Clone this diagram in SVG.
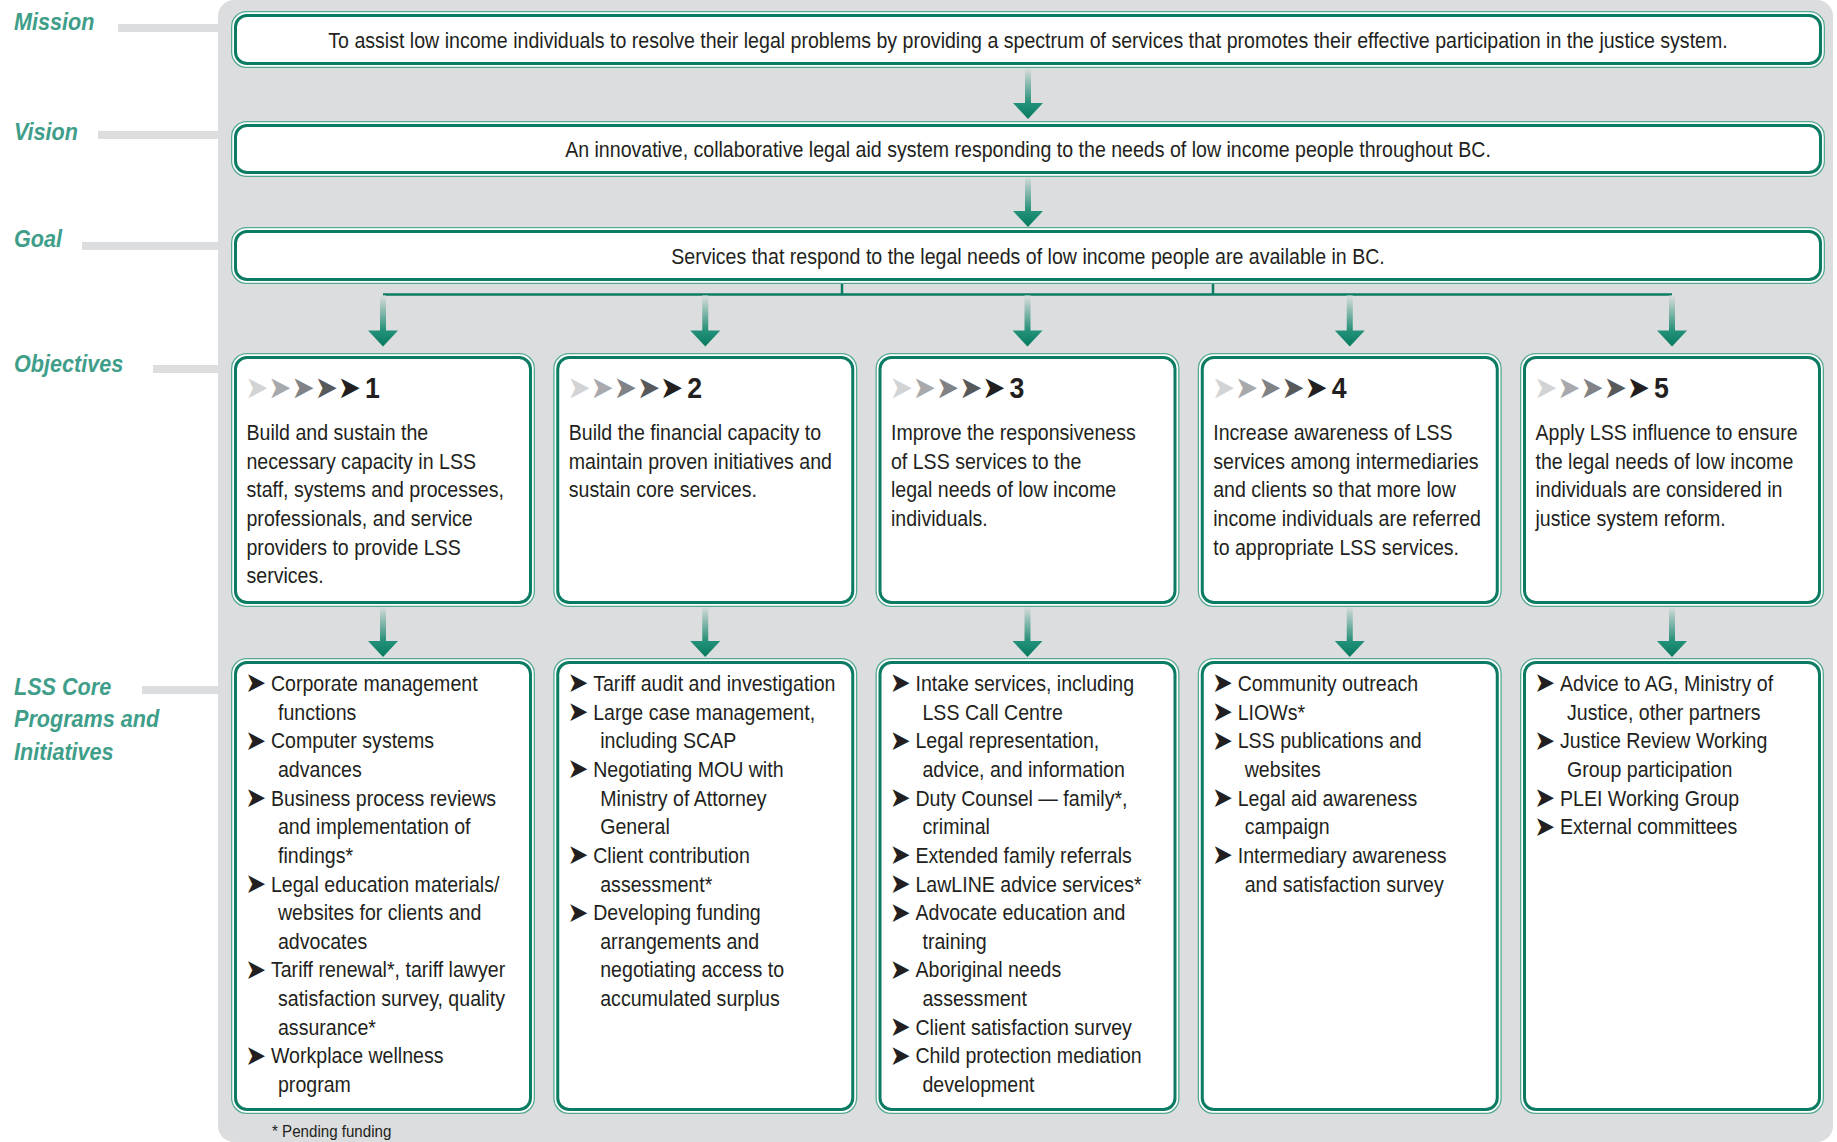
<svg xmlns="http://www.w3.org/2000/svg" xmlns:xlink="http://www.w3.org/1999/xlink" width="1837" height="1142" viewBox="0 0 1837 1142">
<defs>
<style>
.lbl{font-family:"Liberation Sans",Arial,sans-serif;font-weight:700;font-style:italic;font-size:24px;fill:#3f9e89}
.t{font-family:"Liberation Sans",Arial,sans-serif;font-size:22px;fill:#231f20}
.fn{font-family:"Liberation Sans",Arial,sans-serif;font-size:17px;fill:#231f20}
.num{font-family:"Liberation Sans",Arial,sans-serif;font-weight:700;font-size:30px;fill:#231f20}
.b{font-family:"DejaVu Sans",sans-serif;font-size:28px;fill:#231f20}
.ha{font-family:"DejaVu Sans",sans-serif;font-size:31px}
.bo{fill:#fff;stroke:#55a994;stroke-width:1.3}
.bi{fill:#fff;stroke:#0b7c63;stroke-width:3}
.gl{fill:#dcddde}
.cn{stroke:#0b7c63;stroke-width:2.5;fill:none}
</style>
<linearGradient id="gs" x1="0" y1="0" x2="0" y2="1"><stop offset="0" stop-color="#dcddde"/><stop offset="1" stop-color="#1f8d74"/></linearGradient>
<linearGradient id="gh" x1="0" y1="0" x2="0" y2="1"><stop offset="0" stop-color="#24927a"/><stop offset="1" stop-color="#067a5f"/></linearGradient>
<g id="arr"><rect x="-3" y="0" width="6" height="36" fill="url(#gs)"/><polygon points="-15,35 15,35 0,51" fill="url(#gh)"/></g>
</defs>

<rect x="218" y="0" width="1615" height="1142" rx="16" fill="#dcddde"/>

<g id="labels">
<rect class="gl" x="118" y="24" width="110" height="8"/>
<rect class="gl" x="98" y="131" width="130" height="8"/>
<rect class="gl" x="82" y="242" width="146" height="8"/>
<rect class="gl" x="153" y="365" width="75" height="8"/>
<rect class="gl" x="142" y="686" width="86" height="8"/>
<g transform="translate(14 0) scale(0.9 1)">
<text class="lbl" x="0" y="30">Mission</text>
<text class="lbl" x="0" y="140">Vision</text>
<text class="lbl" x="0" y="247">Goal</text>
<text class="lbl" x="0" y="372">Objectives</text>
<text class="lbl"><tspan x="0" y="695">LSS Core</tspan><tspan x="0" y="727.5">Programs and</tspan><tspan x="0" y="760">Initiatives</tspan></text>
</g>
</g>

<g id="connectors">
<use xlink:href="#arr" href="#arr" x="1028" y="68"/>
<use xlink:href="#arr" href="#arr" x="1028" y="176"/>
<path class="cn" d="M383 294.5 H1672 M842 283 V294.5 M1213 283 V294.5"/>
<use xlink:href="#arr" href="#arr" x="383" y="295.5"/>
<use xlink:href="#arr" href="#arr" x="705.25" y="295.5"/>
<use xlink:href="#arr" href="#arr" x="1027.5" y="295.5"/>
<use xlink:href="#arr" href="#arr" x="1349.75" y="295.5"/>
<use xlink:href="#arr" href="#arr" x="1672" y="295.5"/>
<use xlink:href="#arr" href="#arr" x="383" y="606"/>
<use xlink:href="#arr" href="#arr" x="705.25" y="606"/>
<use xlink:href="#arr" href="#arr" x="1027.5" y="606"/>
<use xlink:href="#arr" href="#arr" x="1349.75" y="606"/>
<use xlink:href="#arr" href="#arr" x="1672" y="606"/>
</g>

<g id="mission">
<rect class="bo" x="231.65" y="11.65" width="1592.7" height="55.7" rx="15"/>
<rect class="bi" x="235.5" y="15.5" width="1585" height="48" rx="11.5"/>
<g transform="translate(1028 0) scale(0.89 1)"><text class="t" x="0" y="47.7" text-anchor="middle">To assist low income individuals to resolve their legal problems by providing a spectrum of services that promotes their effective participation in the justice system.</text></g>
</g>

<g id="vision">
<rect class="bo" x="231.65" y="121.65" width="1592.7" height="54.7" rx="15"/>
<rect class="bi" x="235.5" y="125.5" width="1585" height="47" rx="11.5"/>
<g transform="translate(1028 0) scale(0.89 1)"><text class="t" x="0" y="157.3" text-anchor="middle">An innovative, collaborative legal aid system responding to the needs of low income people throughout BC.</text></g>
</g>

<g id="goal">
<rect class="bo" x="231.65" y="227.65" width="1592.7" height="55.7" rx="15"/>
<rect class="bi" x="235.5" y="231.5" width="1585" height="48" rx="11.5"/>
<g transform="translate(1028 0) scale(0.89 1)"><text class="t" x="0" y="263.7" text-anchor="middle">Services that respond to the legal needs of low income people are available in BC.</text></g>
</g>

<g id="obj1">
<rect class="bo" x="231.65" y="353.65" width="302.7" height="252.7" rx="15"/>
<rect class="bi" x="235.5" y="357.5" width="295" height="245" rx="11.5"/>
<g transform="translate(231 0) scale(0.89 1)">
<text class="ha" y="398"><tspan x="16" fill="#d1d3d4">➤</tspan><tspan x="42" fill="#a7a9ac">➤</tspan><tspan x="68" fill="#808285">➤</tspan><tspan x="94" fill="#58595b">➤</tspan><tspan x="120" fill="#231f20">➤</tspan></text>
<text class="num" x="150.6" y="397.7">1</text>
<text class="t"><tspan x="17.4" y="440">Build and sustain the</tspan><tspan x="17.4" y="468.7">necessary capacity in LSS</tspan><tspan x="17.4" y="497.4">staff, systems and processes,</tspan><tspan x="17.4" y="526.1">professionals, and service</tspan><tspan x="17.4" y="554.8">providers to provide LSS</tspan><tspan x="17.4" y="583.5">services.</tspan></text>
</g>
</g>

<g id="obj2">
<rect class="bo" x="553.9" y="353.65" width="302.7" height="252.7" rx="15"/>
<rect class="bi" x="557.75" y="357.5" width="295" height="245" rx="11.5"/>
<g transform="translate(553.25 0) scale(0.89 1)">
<text class="ha" y="398"><tspan x="16" fill="#d1d3d4">➤</tspan><tspan x="42" fill="#a7a9ac">➤</tspan><tspan x="68" fill="#808285">➤</tspan><tspan x="94" fill="#58595b">➤</tspan><tspan x="120" fill="#231f20">➤</tspan></text>
<text class="num" x="150.6" y="397.7">2</text>
<text class="t"><tspan x="17.4" y="440">Build the financial capacity to</tspan><tspan x="17.4" y="468.7">maintain proven initiatives and</tspan><tspan x="17.4" y="497.4">sustain core services.</tspan></text>
</g>
</g>

<g id="obj3">
<rect class="bo" x="876.15" y="353.65" width="302.7" height="252.7" rx="15"/>
<rect class="bi" x="880" y="357.5" width="295" height="245" rx="11.5"/>
<g transform="translate(875.5 0) scale(0.89 1)">
<text class="ha" y="398"><tspan x="16" fill="#d1d3d4">➤</tspan><tspan x="42" fill="#a7a9ac">➤</tspan><tspan x="68" fill="#808285">➤</tspan><tspan x="94" fill="#58595b">➤</tspan><tspan x="120" fill="#231f20">➤</tspan></text>
<text class="num" x="150.6" y="397.7">3</text>
<text class="t"><tspan x="17.4" y="440">Improve the responsiveness</tspan><tspan x="17.4" y="468.7">of LSS services to the</tspan><tspan x="17.4" y="497.4">legal needs of low income</tspan><tspan x="17.4" y="526.1">individuals.</tspan></text>
</g>
</g>

<g id="obj4">
<rect class="bo" x="1198.4" y="353.65" width="302.7" height="252.7" rx="15"/>
<rect class="bi" x="1202.25" y="357.5" width="295" height="245" rx="11.5"/>
<g transform="translate(1197.75 0) scale(0.89 1)">
<text class="ha" y="398"><tspan x="16" fill="#d1d3d4">➤</tspan><tspan x="42" fill="#a7a9ac">➤</tspan><tspan x="68" fill="#808285">➤</tspan><tspan x="94" fill="#58595b">➤</tspan><tspan x="120" fill="#231f20">➤</tspan></text>
<text class="num" x="150.6" y="397.7">4</text>
<text class="t"><tspan x="17.4" y="440">Increase awareness of LSS</tspan><tspan x="17.4" y="468.7">services among intermediaries</tspan><tspan x="17.4" y="497.4">and clients so that more low</tspan><tspan x="17.4" y="526.1">income individuals are referred</tspan><tspan x="17.4" y="554.8">to appropriate LSS services.</tspan></text>
</g>
</g>

<g id="obj5">
<rect class="bo" x="1520.65" y="353.65" width="302.7" height="252.7" rx="15"/>
<rect class="bi" x="1524.5" y="357.5" width="295" height="245" rx="11.5"/>
<g transform="translate(1520 0) scale(0.89 1)">
<text class="ha" y="398"><tspan x="16" fill="#d1d3d4">➤</tspan><tspan x="42" fill="#a7a9ac">➤</tspan><tspan x="68" fill="#808285">➤</tspan><tspan x="94" fill="#58595b">➤</tspan><tspan x="120" fill="#231f20">➤</tspan></text>
<text class="num" x="150.6" y="397.7">5</text>
<text class="t"><tspan x="17.4" y="440">Apply LSS influence to ensure</tspan><tspan x="17.4" y="468.7">the legal needs of low income</tspan><tspan x="17.4" y="497.4">individuals are considered in</tspan><tspan x="17.4" y="526.1">justice system reform.</tspan></text>
</g>
</g>

<g id="prog1">
<rect class="bo" x="231.65" y="658.65" width="302.7" height="454.7" rx="15"/>
<rect class="bi" x="235.5" y="662.5" width="295" height="447" rx="11.5"/>
<g transform="translate(231 0) scale(0.89 1)">
<text class="b"><tspan x="16" y="692.5">➤</tspan><tspan x="16" y="749.8">➤</tspan><tspan x="16" y="807.1">➤</tspan><tspan x="16" y="893.1">➤</tspan><tspan x="16" y="979">➤</tspan><tspan x="16" y="1065">➤</tspan></text>
<text class="t"><tspan x="44.9" y="691">Corporate management</tspan><tspan x="52.8" y="719.7">functions</tspan><tspan x="44.9" y="748.3">Computer systems</tspan><tspan x="52.8" y="777">advances</tspan><tspan x="44.9" y="805.6">Business process reviews</tspan><tspan x="52.8" y="834.3">and implementation of</tspan><tspan x="52.8" y="862.9">findings*</tspan><tspan x="44.9" y="891.6">Legal education materials/</tspan><tspan x="52.8" y="920.2">websites for clients and</tspan><tspan x="52.8" y="948.9">advocates</tspan><tspan x="44.9" y="977.5">Tariff renewal*, tariff lawyer</tspan><tspan x="52.8" y="1006.2">satisfaction survey, quality</tspan><tspan x="52.8" y="1034.8">assurance*</tspan><tspan x="44.9" y="1063.5">Workplace wellness</tspan><tspan x="52.8" y="1092.1">program</tspan></text>
</g>
</g>

<g id="prog2">
<rect class="bo" x="553.9" y="658.65" width="302.7" height="454.7" rx="15"/>
<rect class="bi" x="557.75" y="662.5" width="295" height="447" rx="11.5"/>
<g transform="translate(553.25 0) scale(0.89 1)">
<text class="b"><tspan x="16" y="692.5">➤</tspan><tspan x="16" y="721.2">➤</tspan><tspan x="16" y="778.5">➤</tspan><tspan x="16" y="864.4">➤</tspan><tspan x="16" y="921.7">➤</tspan></text>
<text class="t"><tspan x="44.9" y="691">Tariff audit and investigation</tspan><tspan x="44.9" y="719.7">Large case management,</tspan><tspan x="52.8" y="748.3">including SCAP</tspan><tspan x="44.9" y="777">Negotiating MOU with</tspan><tspan x="52.8" y="805.6">Ministry of Attorney</tspan><tspan x="52.8" y="834.3">General</tspan><tspan x="44.9" y="862.9">Client contribution</tspan><tspan x="52.8" y="891.6">assessment*</tspan><tspan x="44.9" y="920.2">Developing funding</tspan><tspan x="52.8" y="948.9">arrangements and</tspan><tspan x="52.8" y="977.5">negotiating access to</tspan><tspan x="52.8" y="1006.2">accumulated surplus</tspan></text>
</g>
</g>

<g id="prog3">
<rect class="bo" x="876.15" y="658.65" width="302.7" height="454.7" rx="15"/>
<rect class="bi" x="880" y="662.5" width="295" height="447" rx="11.5"/>
<g transform="translate(875.5 0) scale(0.89 1)">
<text class="b"><tspan x="16" y="692.5">➤</tspan><tspan x="16" y="749.8">➤</tspan><tspan x="16" y="807.1">➤</tspan><tspan x="16" y="864.4">➤</tspan><tspan x="16" y="893.1">➤</tspan><tspan x="16" y="921.7">➤</tspan><tspan x="16" y="979">➤</tspan><tspan x="16" y="1036.3">➤</tspan><tspan x="16" y="1065">➤</tspan></text>
<text class="t"><tspan x="44.9" y="691">Intake services, including</tspan><tspan x="52.8" y="719.7">LSS Call Centre</tspan><tspan x="44.9" y="748.3">Legal representation,</tspan><tspan x="52.8" y="777">advice, and information</tspan><tspan x="44.9" y="805.6">Duty Counsel — family*,</tspan><tspan x="52.8" y="834.3">criminal</tspan><tspan x="44.9" y="862.9">Extended family referrals</tspan><tspan x="44.9" y="891.6">LawLINE advice services*</tspan><tspan x="44.9" y="920.2">Advocate education and</tspan><tspan x="52.8" y="948.9">training</tspan><tspan x="44.9" y="977.5">Aboriginal needs</tspan><tspan x="52.8" y="1006.2">assessment</tspan><tspan x="44.9" y="1034.8">Client satisfaction survey</tspan><tspan x="44.9" y="1063.5">Child protection mediation</tspan><tspan x="52.8" y="1092.1">development</tspan></text>
</g>
</g>

<g id="prog4">
<rect class="bo" x="1198.4" y="658.65" width="302.7" height="454.7" rx="15"/>
<rect class="bi" x="1202.25" y="662.5" width="295" height="447" rx="11.5"/>
<g transform="translate(1197.75 0) scale(0.89 1)">
<text class="b"><tspan x="16" y="692.5">➤</tspan><tspan x="16" y="721.2">➤</tspan><tspan x="16" y="749.8">➤</tspan><tspan x="16" y="807.1">➤</tspan><tspan x="16" y="864.4">➤</tspan></text>
<text class="t"><tspan x="44.9" y="691">Community outreach</tspan><tspan x="44.9" y="719.7">LIOWs*</tspan><tspan x="44.9" y="748.3">LSS publications and</tspan><tspan x="52.8" y="777">websites</tspan><tspan x="44.9" y="805.6">Legal aid awareness</tspan><tspan x="52.8" y="834.3">campaign</tspan><tspan x="44.9" y="862.9">Intermediary awareness</tspan><tspan x="52.8" y="891.6">and satisfaction survey</tspan></text>
</g>
</g>

<g id="prog5">
<rect class="bo" x="1520.65" y="658.65" width="302.7" height="454.7" rx="15"/>
<rect class="bi" x="1524.5" y="662.5" width="295" height="447" rx="11.5"/>
<g transform="translate(1520 0) scale(0.89 1)">
<text class="b"><tspan x="16" y="692.5">➤</tspan><tspan x="16" y="749.8">➤</tspan><tspan x="16" y="807.1">➤</tspan><tspan x="16" y="835.8">➤</tspan></text>
<text class="t"><tspan x="44.9" y="691">Advice to AG, Ministry of</tspan><tspan x="52.8" y="719.7">Justice, other partners</tspan><tspan x="44.9" y="748.3">Justice Review Working</tspan><tspan x="52.8" y="777">Group participation</tspan><tspan x="44.9" y="805.6">PLEI Working Group</tspan><tspan x="44.9" y="834.3">External committees</tspan></text>
</g>
</g>

<g id="footnote" transform="translate(272 0) scale(0.89 1)">
<text class="fn" x="0" y="1137">* Pending funding</text>
</g>
</svg>
